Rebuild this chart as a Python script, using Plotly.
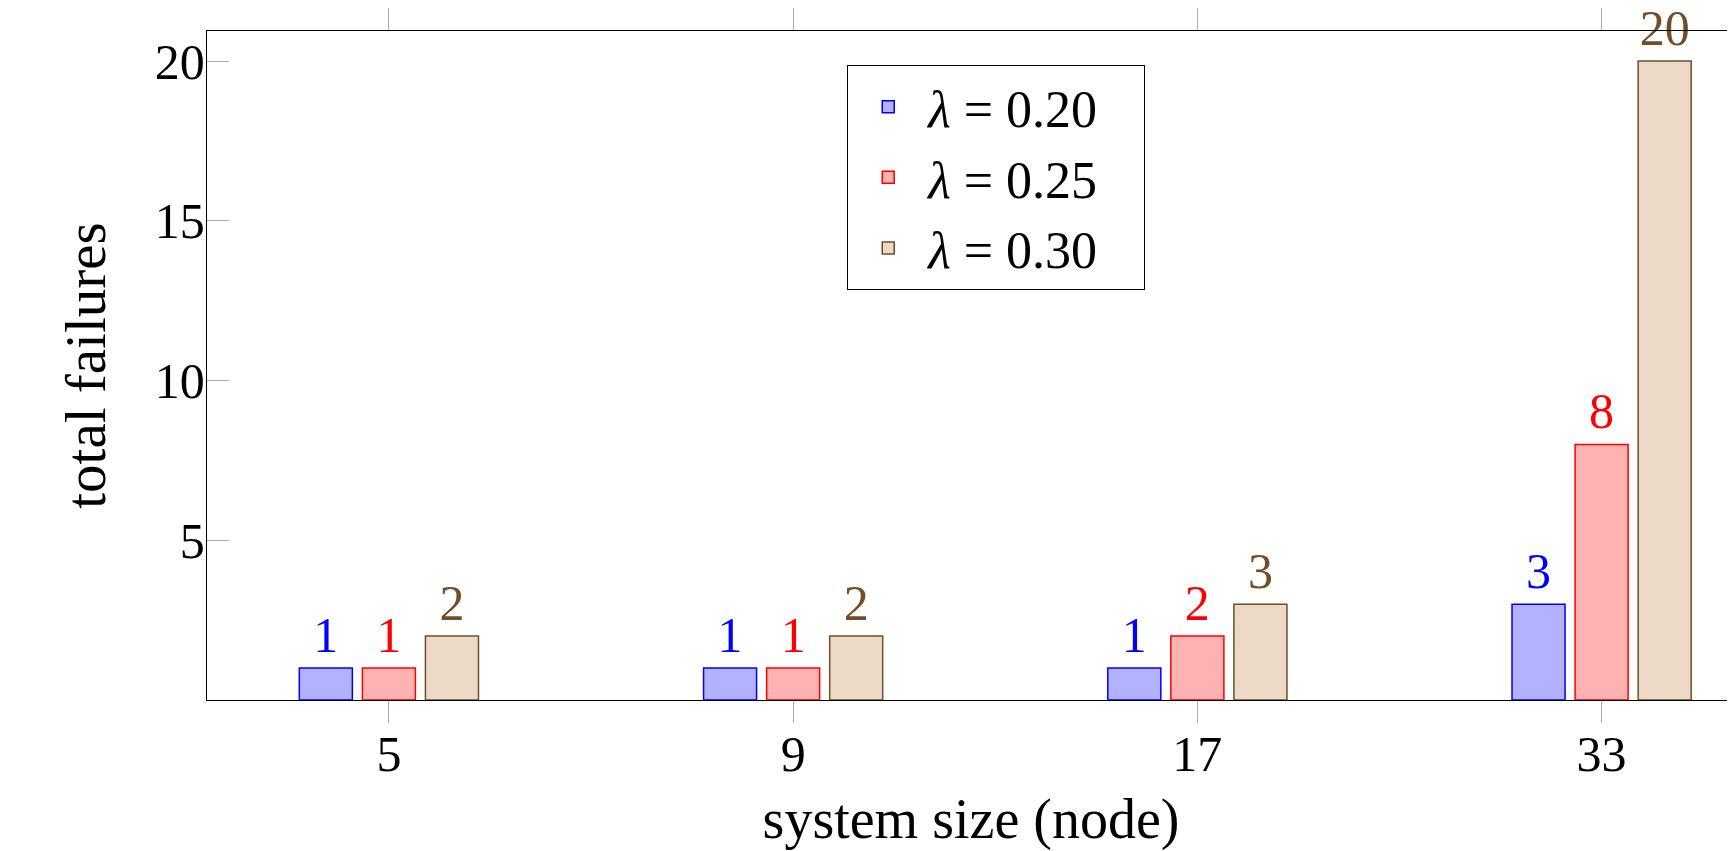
import plotly.graph_objects as go

categories = ["5", "9", "17", "33"]
series_names = ["<i>λ</i> = 0.20", "<i>λ</i> = 0.25", "<i>λ</i> = 0.30"]
failures_020 = [1, 1, 1, 3]
failures_025 = [1, 1, 2, 8]
failures_030 = [2, 2, 3, 20]
y_ticks = [5, 10, 15, 20]

series_values = [failures_020, failures_025, failures_030]
line_colors = ["rgb(0,0,255)", "rgb(255,0,0)", "rgb(115,77,38)"]
fill_colors = ["rgb(178,178,255)", "rgb(255,178,178)", "rgb(236,217,198)"]

FONT = "Liberation Serif"

fig = go.Figure()
for name, vals, lc, fc in zip(series_names, series_values, line_colors, fill_colors):
    fig.add_trace(go.Bar(
        x=categories, y=vals, name=name + "&nbsp;&nbsp;&nbsp;",
        marker=dict(color=fc, line=dict(color=lc, width=1.5)),
        hoverinfo="skip",
    ))

for name, vals, lc in zip(series_names, series_values, line_colors):
    fig.add_trace(go.Scatter(
        x=categories, y=vals, mode="markers+text",
        text=[str(v) for v in vals], textposition="top center",
        textfont=dict(family=FONT, size=50, color=lc),
        marker=dict(size=4, color="rgba(0,0,0,0)"),
        showlegend=False, cliponaxis=False, hoverinfo="skip",
    ))

# the page body adds an 8px margin; the figure is sized so it ends at the window edge
fig.update_layout(
    width=1727, height=843,
    margin=dict(l=199, r=0, t=23, b=151, autoexpand=False),
    paper_bgcolor="white", plot_bgcolor="white",
    barmode="group", bargap=0.532, bargroupgap=0.159,
    scattermode="group", scattergap=0.532,
    font=dict(family=FONT, size=50, color="black"),
    legend=dict(
        x=0.4188, y=0.949, xanchor="left", yanchor="top",
        bordercolor="black", borderwidth=1.3, bgcolor="white",
        font=dict(family=FONT, size=52, color="black"),
        itemwidth=70, tracegroupgap=0,
    ),
    showlegend=True,
)

fig.update_xaxes(
    type="category", range=[-0.45, 3.33], automargin=False,
    showline=True, linecolor="black", linewidth=1.3, mirror="ticks",
    ticks="outside", ticklen=22, tickwidth=1, tickcolor="rgb(170,170,170)",
    showgrid=False, zeroline=False, ticklabelstandoff=-12,
    tickfont=dict(family=FONT, size=50, color="black"),
    title=dict(text="system size (node)", font=dict(family=FONT, size=56, color="black"), standoff=18),
)
fig.update_yaxes(
    range=[0, 20.94], tickvals=y_ticks, automargin=False,
    showline=True, linecolor="black", linewidth=1.3, mirror=False,
    ticks="inside", ticklen=22, tickwidth=1, tickcolor="rgb(170,170,170)",
    showgrid=False, zeroline=False, ticklabelstandoff=-9,
    tickfont=dict(family=FONT, size=50, color="black"),
    title=dict(text="total failures", font=dict(family=FONT, size=57, color="black"), standoff=30),
)

fig.write_html("out.html")
